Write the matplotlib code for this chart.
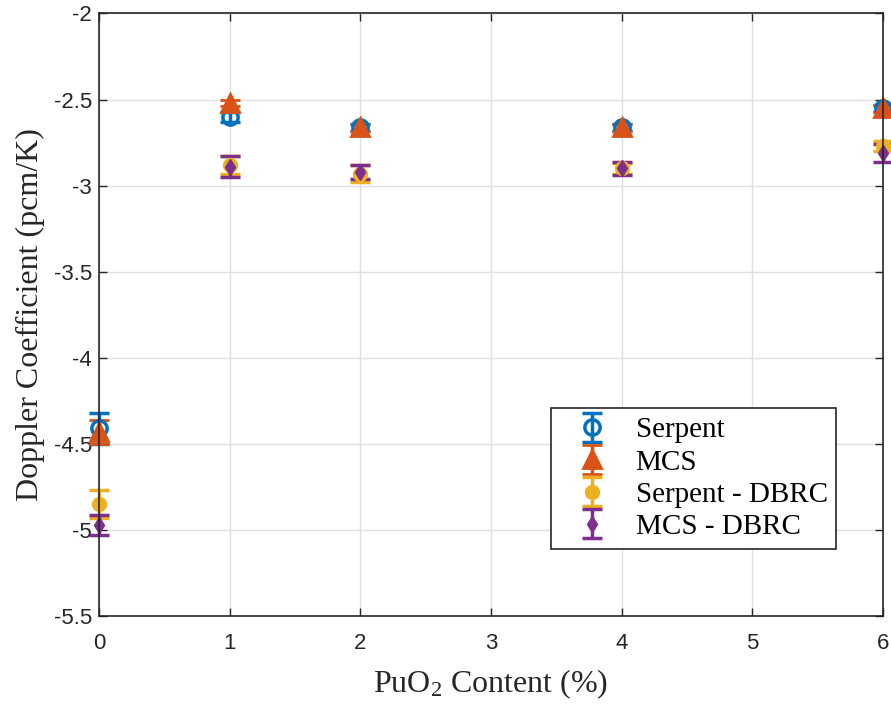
import numpy as np
import matplotlib
matplotlib.use("Agg")
from matplotlib import pyplot as plt
from matplotlib.ticker import FuncFormatter

plt.rcParams["axes.unicode_minus"] = False
plt.rcParams["mathtext.fontset"] = "custom"
plt.rcParams["mathtext.rm"] = "Liberation Serif"
plt.rcParams["mathtext.it"] = "Liberation Serif:italic"

# ---- data ----
puo2 = [0, 1, 2, 4, 6]
serpent = [-4.41, -2.60, -2.66, -2.66, -2.55]
serpent_err = [0.09, 0.03, 0.02, 0.02, 0.02]
mcs = [-4.43, -2.52, -2.66, -2.66, -2.55]
mcs_err = [0.07, 0.02, 0.02, 0.02, 0.02]
serpent_dbrc = [-4.85, -2.88, -2.93, -2.90, -2.77]
serpent_dbrc_err = [0.08, 0.05, 0.05, 0.03, 0.03]
mcs_dbrc = [-4.97, -2.89, -2.92, -2.90, -2.81]
mcs_dbrc_err = [0.06, 0.06, 0.04, 0.04, 0.05]

labels = ["Serpent", "MCS", "Serpent - DBRC", "MCS - DBRC"]
colors = ["#0072BD", "#D95319", "#EDB120", "#7E2F8E"]

fig = plt.figure(figsize=(8.91, 7.09), dpi=100)
ax = fig.add_axes([0.111, 0.131, 0.880, 0.850])

common = dict(elinewidth=2.5, capsize=7, capthick=2.5, clip_on=False)
e1 = ax.errorbar(puo2, serpent, yerr=serpent_err, fmt="o", color=colors[0],
                 mfc="none", mew=2.5, ms=11, label=labels[0], **common)
e2 = ax.errorbar(puo2, mcs, yerr=mcs_err, fmt="^", color=colors[1],
                 mfc=colors[1], mew=2, ms=13, label=labels[1], **common)
e3 = ax.errorbar(puo2, serpent_dbrc, yerr=serpent_dbrc_err, fmt="o", color=colors[2],
                 ms=10, label=labels[2], **common)
e4 = ax.errorbar(puo2, mcs_dbrc, yerr=mcs_dbrc_err, fmt="d", color=colors[3],
                 ms=8, label=labels[3], **common)
for e in (e1, e2, e3, e4):
    for art in e.lines[1] + e.lines[2]:
        art.set_clip_on(False)

ax.set_xlim(0, 6)
ax.set_ylim(-5.5, -2)
ax.set_xticks(np.arange(0, 7, 1))
ax.set_yticks(np.arange(-5.5, -1.9, 0.5))
ax.yaxis.set_major_formatter(FuncFormatter(lambda v, p: "%g" % v))
ax.tick_params(direction="in", length=6, width=1, labelsize=16,
               top=True, right=True, labelcolor="#262626", color="#262626")
ax.tick_params(axis="x", pad=12)
ax.tick_params(axis="y", pad=5)
for lbl in ax.get_xticklabels() + ax.get_yticklabels():
    lbl.set_fontfamily("Liberation Sans")
ax.grid(True, color="#e0e0e0", linewidth=1)
ax.set_axisbelow(True)
for s in ax.spines.values():
    s.set_linewidth(1.2)
    s.set_color("#262626")

ax.set_xlabel("PuO$_2$ Content (%)", fontfamily="Liberation Serif", fontsize=23,
              labelpad=10, color="#262626")
ax.set_ylabel("Doppler Coefficient (pcm/K)", fontfamily="Liberation Serif",
              fontsize=23, labelpad=6, color="#262626")

leg = ax.legend(loc="upper left", bbox_to_anchor=(0.5765, 0.345),
                fancybox=False, edgecolor="#262626", framealpha=1,
                prop={"family": "Liberation Serif", "size": 21},
                handlelength=2.2, handletextpad=0.4, labelspacing=0.2,
                borderpad=0.3, borderaxespad=0)
leg.get_frame().set_linewidth(1.2)

fig.savefig("out.png", dpi=100)
